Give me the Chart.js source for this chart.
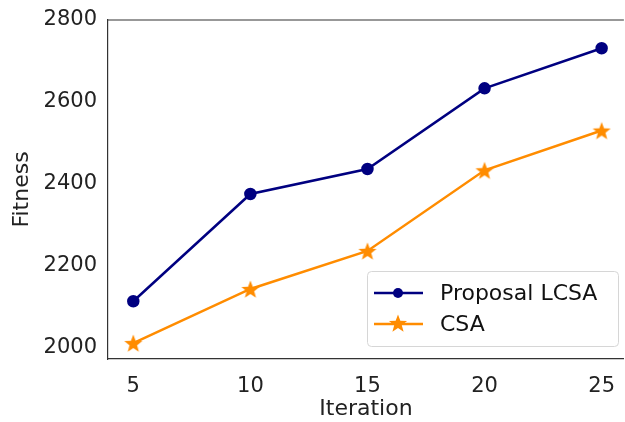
<!DOCTYPE html>
<html>
<head>
<meta charset="utf-8">
<script src="https://cdn.jsdelivr.net/npm/chart.js@4"></script>
<style>
  html, body { margin: 0; padding: 0; background: #fff; }
  #wrap { width: 625px; height: 422px; }
</style>
</head>
<body>
<div id="wrap"><canvas id="chart" width="625" height="422"></canvas></div>
<script>
const iterations = [5, 10, 15, 20, 25];
const lcsaFitness = [2113, 2375, 2436, 2633, 2731];
const csaFitness = [2011, 2143, 2236, 2433, 2530];
const yTicks = [2000, 2200, 2400, 2600, 2800];

const FONT = "'DejaVu Sans', sans-serif";

// filled five-point star marker, matplotlib style
function makeStar(size, color) {
    const c = document.createElement('canvas');
    c.width = size; c.height = size;
    const g = c.getContext('2d');
    const cx = size / 2, cy = size / 2 + 1;
    const rOut = size / 2 - 0.5, rIn = rOut * 0.42;
    g.beginPath();
    for (let i = 0; i < 10; i++) {
        const r = i % 2 === 0 ? rOut : rIn;
        const a = -Math.PI / 2 + i * Math.PI / 5;
        g.lineTo(cx + r * Math.cos(a), cy + r * Math.sin(a));
    }
    g.closePath();
    g.fillStyle = color;
    g.fill();
    return c;
}
const starImg = makeStar(20, '#ff8c00');

// top spine (the right one falls off the picture)
const frame = {
    id: 'frame',
    afterDraw(chart) {
        const a = chart.chartArea, ctx = chart.ctx;
        ctx.save();
        ctx.strokeStyle = '#333';
        ctx.lineWidth = 1.2;
        ctx.beginPath();
        ctx.moveTo(a.left, a.top);
        ctx.lineTo(a.right, a.top);
        ctx.stroke();
        ctx.restore();
    }
};

const legendInside = {
    id: 'legendInside',
    afterDraw(chart) {
        const ctx = chart.ctx;
        const x0 = 367, y0 = 271, w = 251, h = 75;
        ctx.save();
        ctx.fillStyle = 'rgba(255,255,255,0.8)';
        ctx.strokeStyle = '#d6d6d6';
        ctx.lineWidth = 1;
        ctx.beginPath();
        ctx.roundRect(x0 + 0.5, y0 + 0.5, w, h, 4);
        ctx.fill();
        ctx.stroke();
        ctx.font = '22px ' + FONT;
        ctx.textBaseline = 'middle';
        chart.data.datasets.forEach((ds, i) => {
            const y = y0 + 22 + i * 31;
            ctx.strokeStyle = ds.borderColor;
            ctx.lineWidth = 2.5;
            ctx.beginPath();
            ctx.moveTo(374, y);
            ctx.lineTo(423, y);
            ctx.stroke();
            if (ds.pointStyle === 'circle') {
                ctx.fillStyle = ds.borderColor;
                ctx.beginPath();
                ctx.arc(398, y, ds.pointRadius, 0, Math.PI * 2);
                ctx.fill();
            } else {
                ctx.drawImage(ds.pointStyle, 398 - 10, y - 11);
            }
            ctx.fillStyle = '#111';
            ctx.fillText(ds.label, 440, y + 1);
        });
        ctx.restore();
    }
};

new Chart(document.getElementById('chart'), {
    type: 'line',
    data: {
        datasets: [{
            label: 'Proposal LCSA',
            data: iterations.map((x, i) => ({ x: x, y: lcsaFitness[i] })),
            borderColor: '#000080',
            backgroundColor: '#000080',
            borderWidth: 2.5,
            pointStyle: 'circle',
            pointRadius: 5,
            pointHoverRadius: 5,
            tension: 0
        }, {
            label: 'CSA',
            data: iterations.map((x, i) => ({ x: x, y: csaFitness[i] })),
            borderColor: '#ff8c00',
            backgroundColor: '#ff8c00',
            borderWidth: 2.5,
            pointStyle: starImg,
            pointRadius: 10,
            pointHoverRadius: 10,
            tension: 0
        }]
    },
    options: {
        responsive: false,
        animation: false,
        layout: { autoPadding: false, padding: { top: 20, right: 0, left: 0, bottom: 0 } },
        plugins: { legend: { display: false }, tooltip: { enabled: false } },
        scales: {
            x: {
                type: 'linear',
                min: 3.92,
                max: 25.95,
                afterBuildTicks: (axis) => { axis.ticks = iterations.map(v => ({ value: v })); },
                afterFit: (axis) => { axis.height = 63; },
                grid: { display: false, drawTicks: true, tickLength: 5, tickColor: '#333' },
                border: { display: true, color: '#333', width: 1.2 },
                ticks: { color: '#222', font: { family: FONT, size: 21 }, padding: 10, maxRotation: 0,
                         callback: (v) => String(v) },
                title: { display: true, text: 'Iteration', color: '#222', font: { family: FONT, size: 22 },
                         padding: { top: 1, bottom: 0 } }
            },
            y: {
                min: 1972,
                max: 2800,
                afterBuildTicks: (axis) => { axis.ticks = yTicks.map(v => ({ value: v })); },
                afterFit: (axis) => { axis.width = 108; },
                grid: { display: false, drawTicks: true, tickLength: 5, tickColor: '#333' },
                border: { display: true, color: '#333', width: 1.2 },
                ticks: { color: '#222', font: { family: FONT, size: 21 }, padding: 6,
                         callback: (v) => String(v) },
                title: { display: true, text: 'Fitness', color: '#222', font: { family: FONT, size: 22 },
                         padding: { top: 9, bottom: 0 } }
            }
        }
    },
    plugins: [frame, legendInside]
});
</script>
</body>
</html>
